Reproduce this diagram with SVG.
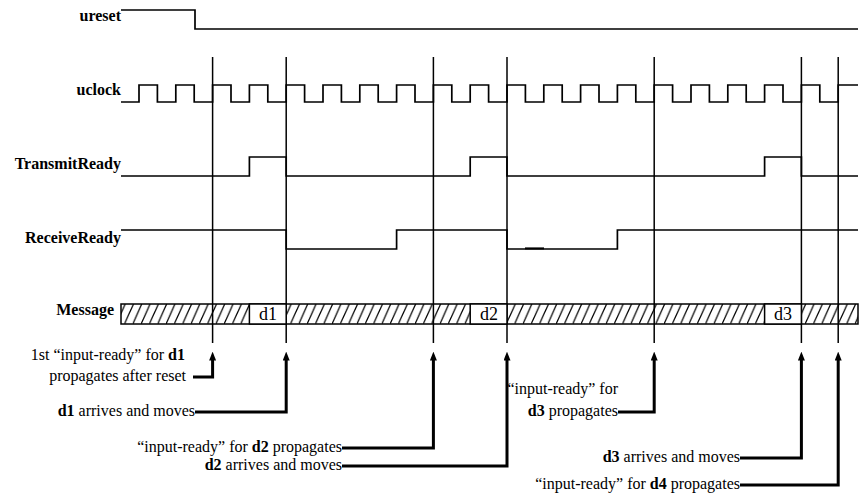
<svg xmlns="http://www.w3.org/2000/svg" width="862" height="498" viewBox="0 0 862 498">
<style>
.lbl{font-family:"Liberation Serif","Times New Roman",serif;font-size:16px;font-weight:bold;text-anchor:end;fill:#000}
.note{font-family:"Liberation Serif","Times New Roman",serif;font-size:16px;text-anchor:end;fill:#000}
.note tspan.b{font-weight:bold}
.dt{font-family:"Liberation Serif","Times New Roman",serif;font-size:18px;text-anchor:middle;fill:#000}
.wave{fill:none;stroke:#000;stroke-width:1.7}
.vline{stroke:#000;stroke-width:1.5}
.conn{fill:none;stroke:#000;stroke-width:3}
</style>
<defs>
<pattern id="hatch" patternUnits="userSpaceOnUse" x="0" y="304" width="8.3" height="20">
<path d="M-8.3,20 L0.7,0 M0,20 L9,0" stroke="#000" stroke-width="1.2" fill="none"/>
</pattern>
<marker id="arr" viewBox="0 0 10 10" refX="4" refY="5" markerWidth="9" markerHeight="7" markerUnits="userSpaceOnUse" orient="auto" preserveAspectRatio="none">
<path d="M0,0 L10,5 L0,10 z" fill="#000"/>
</marker>
</defs>
<rect width="862" height="498" fill="#fff"/>

<g id="verticals">
<line class="vline" x1="212.6" y1="57" x2="212.6" y2="343"/>
<line class="vline" x1="286.2" y1="57" x2="286.2" y2="343"/>
<line class="vline" x1="433.4" y1="57" x2="433.4" y2="343"/>
<line class="vline" x1="507" y1="57" x2="507" y2="343"/>
<line class="vline" x1="654.2" y1="57" x2="654.2" y2="343"/>
<line class="vline" x1="801.4" y1="57" x2="801.4" y2="343"/>
<line class="vline" x1="838.2" y1="57" x2="838.2" y2="343"/>
</g>

<g id="ureset">
<text class="lbl" x="121" y="21">ureset</text>
<path class="wave" d="M121,10 H195 V29 H858"/>
</g>

<g id="uclock">
<text class="lbl" x="121" y="95">uclock</text>
<path class="wave" d="M121,102 H139 V85 H157.4 V102 H175.8 V85 H194.2 V102 H212.6 V85 H231 V102 H249.4 V85 H267.8 V102 H286.2 V85 H304.6 V102 H323 V85 H341.4 V102 H359.8 V85 H378.2 V102 H396.6 V85 H415 V102 H433.4 V85 H451.8 V102 H470.2 V85 H488.6 V102 H507 V85 H525.4 V102 H543.8 V85 H562.2 V102 H580.6 V85 H599 V102 H617.4 V85 H635.8 V102 H654.2 V85 H672.6 V102 H691 V85 H709.4 V102 H727.8 V85 H746.2 V102 H764.6 V85 H783 V102 H801.4 V85 H819.8 V102 H838.2 V85 H858"/>
</g>

<g id="transmitready">
<text class="lbl" x="121" y="169">TransmitReady</text>
<path class="wave" d="M121,176 H249.4 V157 H286.2 V176 H470.2 V157 H507 V176 H764.6 V157 H801.4 V176 H858"/>
</g>

<g id="receiveready">
<text class="lbl" x="121" y="243">ReceiveReady</text>
<path class="wave" d="M121,230 H286.2 V249 H396.6 V230 H507 V249 H617.4 V230 H858"/>
<line x1="525" y1="248.4" x2="544" y2="248.4" stroke="#000" stroke-width="2"/>
</g>

<g id="message">
<text class="lbl" x="114" y="315">Message</text>
<rect x="121" y="304" width="737" height="20" fill="url(#hatch)" stroke="#000" stroke-width="1.5"/>
<rect x="249.4" y="304" width="36.8" height="20" fill="#fff" stroke="#000" stroke-width="1.5"/>
<rect x="470.2" y="304" width="36.8" height="20" fill="#fff" stroke="#000" stroke-width="1.5"/>
<rect x="764.6" y="304" width="36.8" height="20" fill="#fff" stroke="#000" stroke-width="1.5"/>
<text class="dt" x="268" y="320">d1</text>
<text class="dt" x="489" y="320">d2</text>
<text class="dt" x="783" y="320">d3</text>
</g>

<g id="note1">
<text class="note" x="185" y="360">1st “input-ready” for <tspan class="b">d1</tspan></text>
<text class="note" x="186" y="381">propagates after reset</text>
</g>
<g id="note2"><text class="note" x="195" y="416"><tspan class="b">d1</tspan> arrives and moves</text></g>
<g id="note3"><text class="note" x="342" y="452">“input-ready” for <tspan class="b">d2</tspan> propagates</text></g>
<g id="note4"><text class="note" x="342" y="470"><tspan class="b">d2</tspan> arrives and moves</text></g>
<g id="note5">
<text class="note" x="618" y="394">“input-ready” for</text>
<text class="note" x="618" y="416"><tspan class="b">d3</tspan> propagates</text>
</g>
<g id="note6"><text class="note" x="740" y="462"><tspan class="b">d3</tspan> arrives and moves</text></g>
<g id="note7"><text class="note" x="740" y="489">“input-ready” for <tspan class="b">d4</tspan> propagates</text></g>

<g id="connectors">
<path class="conn" d="M193,377 H212.6 V357" marker-end="url(#arr)"/>
<path class="conn" d="M195,412 H286.2 V357" marker-end="url(#arr)"/>
<path class="conn" d="M342,448 H433.4 V357" marker-end="url(#arr)"/>
<path class="conn" d="M342,466 H507 V357" marker-end="url(#arr)"/>
<path class="conn" d="M618,412 H654.2 V357" marker-end="url(#arr)"/>
<path class="conn" d="M740,458 H801.4 V357" marker-end="url(#arr)"/>
<path class="conn" d="M740,485 H838.2 V357" marker-end="url(#arr)"/>
</g>
</svg>
